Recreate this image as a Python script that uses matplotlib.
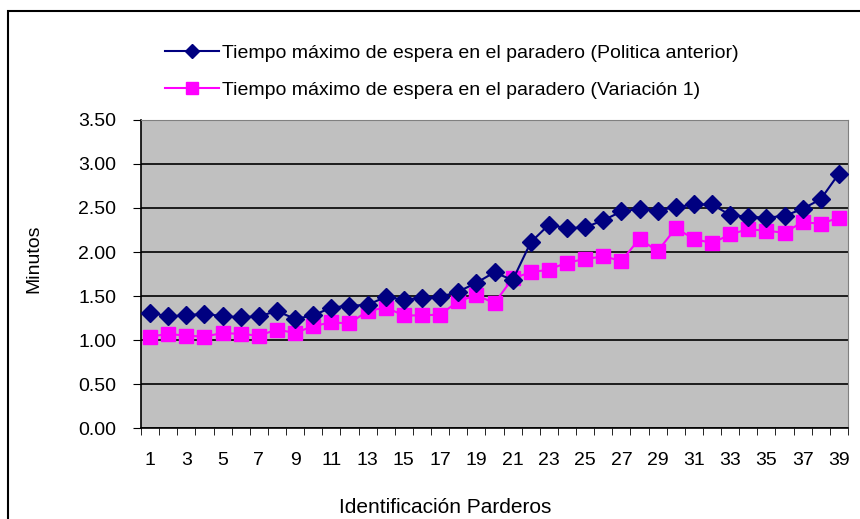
import numpy as np
import matplotlib
matplotlib.use("Agg")
import matplotlib.pyplot as plt
from matplotlib.patches import Rectangle

plt.rcParams["font.family"] = ["Liberation Sans", "DejaVu Sans"]

paraderos = list(range(1, 40))
politica_anterior = [1.31, 1.27, 1.28, 1.30, 1.27, 1.26, 1.27, 1.33, 1.24, 1.28,
                     1.37, 1.39, 1.40, 1.49, 1.46, 1.48, 1.49, 1.55, 1.65, 1.77,
                     1.68, 2.11, 2.31, 2.27, 2.28, 2.36, 2.46, 2.49, 2.47, 2.51,
                     2.54, 2.54, 2.42, 2.40, 2.39, 2.41, 2.49, 2.60, 2.89]
variacion_1 = [1.04, 1.07, 1.05, 1.04, 1.08, 1.07, 1.05, 1.12, 1.08, 1.16,
               1.20, 1.19, 1.33, 1.37, 1.28, 1.28, 1.29, 1.44, 1.51, 1.42,
               1.70, 1.77, 1.80, 1.88, 1.92, 1.95, 1.90, 2.15, 2.01, 2.27,
               2.15, 2.10, 2.20, 2.26, 2.24, 2.22, 2.34, 2.32, 2.39]
y_ticks = np.arange(0, 3.51, 0.5)

fig = plt.figure(figsize=(8.6, 5.19), dpi=100)
ax = fig.add_axes([0.164, 0.175, 0.822, 0.594])
ax.set_facecolor("#C0C0C0")

x = np.array(paraderos)
ax.plot(x, politica_anterior, color="#000080", marker="D", markersize=9,
        linewidth=1.5, label="Tiempo máximo de espera en el paradero (Politica anterior)",
        zorder=4)
ax.plot(x, variacion_1, color="#FF00FF", marker="s", markersize=10,
        linewidth=1.5, label="Tiempo máximo de espera en el paradero (Variación 1)",
        zorder=3)

ax.set_xlim(0.5, 39.5)
ax.set_ylim(0, 3.5)
ax.set_yticks(y_ticks)
ax.set_yticklabels([f"{v:.2f}" for v in y_ticks], fontsize=14)
ax.set_xticks(paraderos[::2])
ax.set_xticklabels([str(p) for p in paraderos[::2]], fontsize=14)
ax.set_xticks(np.arange(0.5, 40, 1), minor=True)
ax.tick_params(axis="x", which="major", length=0, pad=17)
ax.tick_params(axis="x", which="minor", length=5, direction="out", color="black")
ax.tick_params(axis="y", length=6, direction="out", pad=12)

ax.yaxis.grid(True, color="black", linewidth=1.2)
ax.set_axisbelow(True)
for s in ["top", "right"]:
    ax.spines[s].set_color("#808080")
for s in ["left", "bottom"]:
    ax.spines[s].set_color("black")
    ax.spines[s].set_linewidth(1.2)

ax.set_xlabel("Identificación Parderos", fontsize=15)
ax.xaxis.set_label_coords(0.43, -0.256)
ax.xaxis.label.set_verticalalignment("center")
ax.set_ylabel("Minutos", fontsize=14)
ax.yaxis.set_label_coords(-0.152, 0.55)
ax.yaxis.label.set_verticalalignment("center")

fig.legend(loc="upper left", bbox_to_anchor=(0.192, 0.915), frameon=False,
           fontsize=14, handlelength=2.75, handletextpad=0.2, labelspacing=1.0,
           borderpad=0, borderaxespad=0, markerscale=0.8)

fig.patches.append(Rectangle((0.009, -0.1), 1.5, 1.079, transform=fig.transFigure,
                             fill=False, edgecolor="black", linewidth=1.5))

fig.savefig("out.png", dpi=100)
